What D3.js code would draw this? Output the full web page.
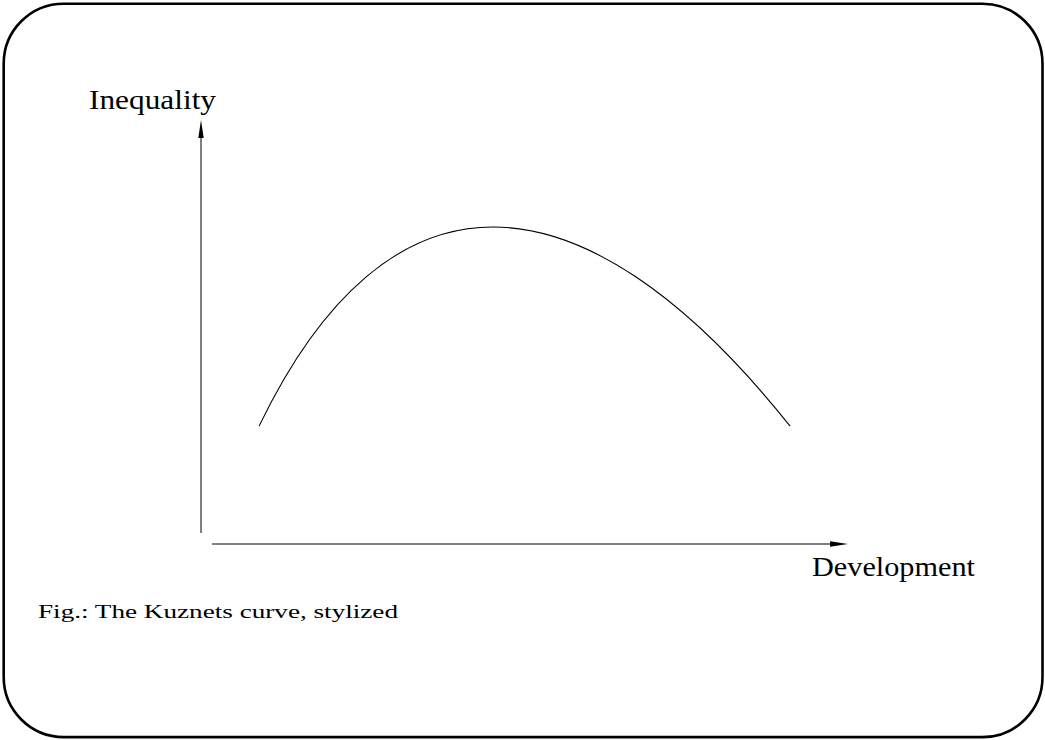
<!DOCTYPE html>
<html>
<head>
<meta charset="utf-8">
<script src="https://cdn.jsdelivr.net/npm/d3@7"></script>
<style>
  html, body { margin: 0; padding: 0; background: #fff; }
  svg { display: block; }
  text { font-family: "Liberation Serif", "DejaVu Serif", serif; fill: #000; }
</style>
</head>
<body>
<svg id="chart" width="1045" height="740"></svg>
<script>
// Stylized Kuznets curve, given as one cubic Bézier segment
// (start, two control points, end) in development/inequality units
const curveDevelopment = [0.74, 2.75, 5.76, 9.09];
const curveInequality  = [2.78, 9.04, 9.04, 2.78];

const xAxisLabel = "Development";
const yAxisLabel = "Inequality";
const caption = "Fig.: The Kuznets curve, stylized";

const svg = d3.select("#chart");

// rounded frame
svg.append("rect")
  .attr("x", 3.7).attr("y", 3.7)
  .attr("width", 1038.8).attr("height", 733.4)
  .attr("rx", 60).attr("ry", 60)
  .attr("fill", "none").attr("stroke", "#000").attr("stroke-width", 2.6);

// scales: origin on the x-axis line, axes drawn as arrows
const x = d3.scaleLinear().domain([0, 10]).range([212, 848]);
const y = d3.scaleLinear().domain([0, 10]).range([544, 120]);

const arrowLen = 18, arrowHalf = 2.7;

// y axis
const yAxisX = 201;
svg.append("line")
  .attr("x1", yAxisX).attr("y1", 533)
  .attr("x2", yAxisX).attr("y2", y(10) + arrowLen - 2)
  .attr("stroke", "#000").attr("stroke-width", 1);
svg.append("path")
  .attr("d", `M${yAxisX},${y(10)} L${yAxisX - arrowHalf},${y(10) + arrowLen} L${yAxisX + arrowHalf},${y(10) + arrowLen} Z`)
  .attr("fill", "#000");

// x axis
const xAxisY = y(0);
svg.append("line")
  .attr("x1", x(0)).attr("y1", xAxisY)
  .attr("x2", x(10) - arrowLen + 2).attr("y2", xAxisY)
  .attr("stroke", "#000").attr("stroke-width", 1);
svg.append("path")
  .attr("d", `M${x(10)},${xAxisY} L${x(10) - arrowLen},${xAxisY - arrowHalf} L${x(10) - arrowLen},${xAxisY + arrowHalf} Z`)
  .attr("fill", "#000");

// curve
const cp = curveDevelopment.map((d, i) => [x(d), y(curveInequality[i])]);
const p = d3.path();
p.moveTo(cp[0][0], cp[0][1]);
p.bezierCurveTo(cp[1][0], cp[1][1], cp[2][0], cp[2][1], cp[3][0], cp[3][1]);
svg.append("path")
  .attr("d", p.toString())
  .attr("fill", "none")
  .attr("stroke", "#000")
  .attr("stroke-width", 1.1);

// labels
svg.append("text")
  .attr("x", 89).attr("y", 109)
  .attr("font-size", 26.5)
  .attr("textLength", 127).attr("lengthAdjust", "spacingAndGlyphs")
  .text(yAxisLabel);

svg.append("text")
  .attr("x", 812).attr("y", 576)
  .attr("font-size", 26.5)
  .attr("textLength", 163).attr("lengthAdjust", "spacingAndGlyphs")
  .text(xAxisLabel);

svg.append("text")
  .attr("x", 38).attr("y", 618)
  .attr("font-size", 19)
  .attr("textLength", 360).attr("lengthAdjust", "spacingAndGlyphs")
  .text(caption);
</script>
</body>
</html>
